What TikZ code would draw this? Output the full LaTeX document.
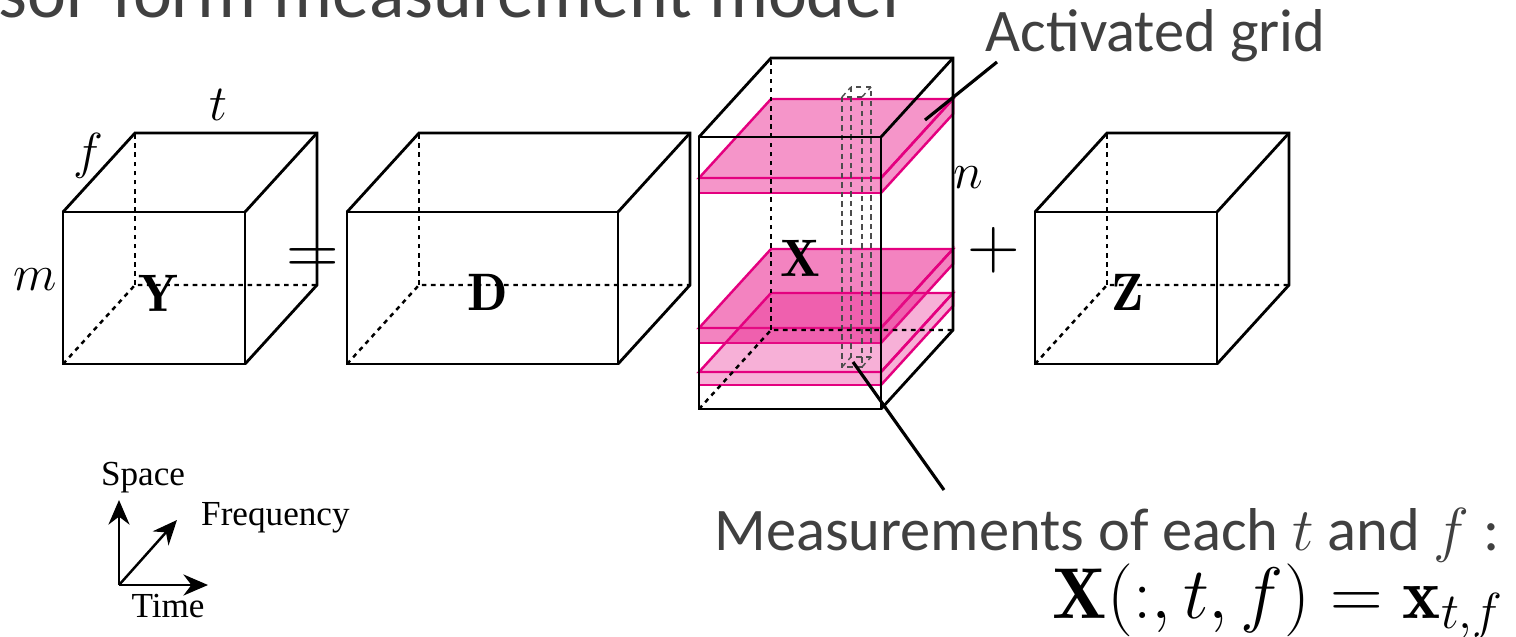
\documentclass[tikz,border=0pt]{standalone}
\usepackage{amsmath,amssymb}
\usepackage{fontspec}
\newfontfamily\slidefont{Carlito}
\newfontfamily\timesfont{Liberation Serif}
\definecolor{txtgray}{RGB}{64,64,64}
\definecolor{gridedge}{RGB}{228,0,127}
\definecolor{gridfill}{RGB}{233,30,140}
\usetikzlibrary{arrows.meta,positioning,calc}

% front face starts at (#1,#2), size #3 x #4, fixed depth
\newcommand{\tensorbox}[4]{%
  \draw[hidden] (#1,#2+#4) -- ++(72,-79) -- ++(#3,0);
  \draw[hidden] (#1+72,#2+#4-79) -- (#1+72,#2-79);
  \draw[edge] (#1,#2) rectangle ++(#3,#4);
  \draw[edge] (#1,#2) -- ++(72,-79) -- ++(#3,0) -- ++(0,#4) -- ++(-72,79);
  \draw[edge] (#1+#3,#2) -- ++(72,-79);
}
% activated slab of X at height #1, thickness #2, opacity #3
\newcommand{\gridslab}[3]{%
  \filldraw[slab,fill opacity=#3] (699,#1) -- (881,#1) -- (953,#1-79) -- (771,#1-79) -- cycle;
  \filldraw[slab,fill opacity=#3] (699,#1) rectangle (881,#1+#2);
  \filldraw[slab,fill opacity=#3] (881,#1) -- (953,#1-79) -- (953,#1-79+#2) -- (881,#1+#2) -- cycle;
}

\begin{document}
\begin{tikzpicture}[x=0.01cm,y=-0.01cm,
  edge/.style={line width=0.8pt,black},
  hidden/.style={line width=0.7pt,dash pattern=on 1.3pt off 1.3pt},
  slab/.style={draw=gridedge,fill=gridfill,line width=0.7pt},
  tube/.style={draw=black!70,line width=0.4pt,dash pattern=on 1.5pt off 1.2pt},
  lbl/.style={font=\fontsize{15}{17}\selectfont},
  note/.style={font=\slidefont\fontsize{17.2}{20}\selectfont,text=txtgray,inner sep=0pt},
  axlbl/.style={font=\timesfont\fontsize{10}{12}\selectfont,inner sep=1pt},
  lead/.style={line width=0.9pt,black}]
  \useasboundingbox (0,0) rectangle (1516,637);
  \clip (0,0) rectangle (1516,637);

  \node[note,anchor=base west,font=\slidefont\fontsize{21}{24}\selectfont] (title) at (-2,18) {sor-form measurement model};

  % tensors
  \tensorbox{63}{212}{182}{152}
  \tensorbox{347}{212}{271}{152}
  \gridslab{178}{15}{0.47}
  \gridslab{328}{15}{0.55}
  \gridslab{372}{13}{0.35}
  \draw[tube] (842,97) rectangle (862,367);
  \draw[tube] (851,87) rectangle (871,357);
  \draw[tube] (842,97) -- (851,87) (862,97) -- (871,87) (842,367) -- (851,357) (862,367) -- (871,357);
  \tensorbox{699}{137}{182}{272}
  \tensorbox{1035}{212}{182}{152}

  \node[lbl] (ylab) at (158,293) {$\mathbf{Y}$};
  \node[lbl] (dlab) at (488,292) {$\mathbf{D}$};
  \node[lbl] (xlab) at (800,258) {$\mathbf{X}$};
  \node[lbl] (zlab) at (1128,292) {$\mathbf{Z}$};
  \node[lbl] (tdim) at (218,105) {$t$};
  \node[lbl] (fdim) at (88,156) {$f$};
  \node[lbl] (mdim) at (35,280) {$m$};
  \node[lbl] (ndim) at (968,178) {$n$};
  \node[font=\fontsize{20}{22}\selectfont] (eqsign) at (313,262) {$=$};
  \node[font=\fontsize{20}{22}\selectfont] (plus) at (994,250) {$+$};

  % call-outs
  \node[note,anchor=base west] (act) at (985,52) {Activated grid};
  \coordinate (actend) at (925,120);
  \coordinate (actstart) at (997,62);
  \draw[lead] (actstart) -- (actend);
  \node[note,anchor=base east] (meas) at (1500,550) {Measurements of each $t$ and $f$ :};
  \node[anchor=base east,inner sep=0pt,font=\fontsize{20.5}{22}\selectfont] (xtf) at (1505,618) {$\mathbf{X}(:,t,f)=\mathbf{x}_{t,f}$};
  \coordinate (tubeend) at (853,362);
  \coordinate (measstart) at (944,490);
  \draw[lead] (measstart) -- (tubeend);

  % axes legend
  \coordinate (org) at (119,585);
  \node[axlbl] (space) at (143,478) {Space};
  \node[axlbl,anchor=west] (freq) at (197,518) {Frequency};
  \node[axlbl] (time) at (168,606) {Time};
  \coordinate (spacetip) at (119,500);
  \coordinate (freqtip) at (177,520);
  \coordinate (timetip) at (208,585);
  \draw[-{Stealth[length=7pt,width=6pt]},line width=0.7pt] (org) -- (spacetip);
  \draw[-{Stealth[length=7pt,width=6pt]},line width=0.7pt] (org) -- (freqtip);
  \draw[-{Stealth[length=7pt,width=6pt]},line width=0.7pt] (org) -- (timetip);
\end{tikzpicture}
\end{document}
